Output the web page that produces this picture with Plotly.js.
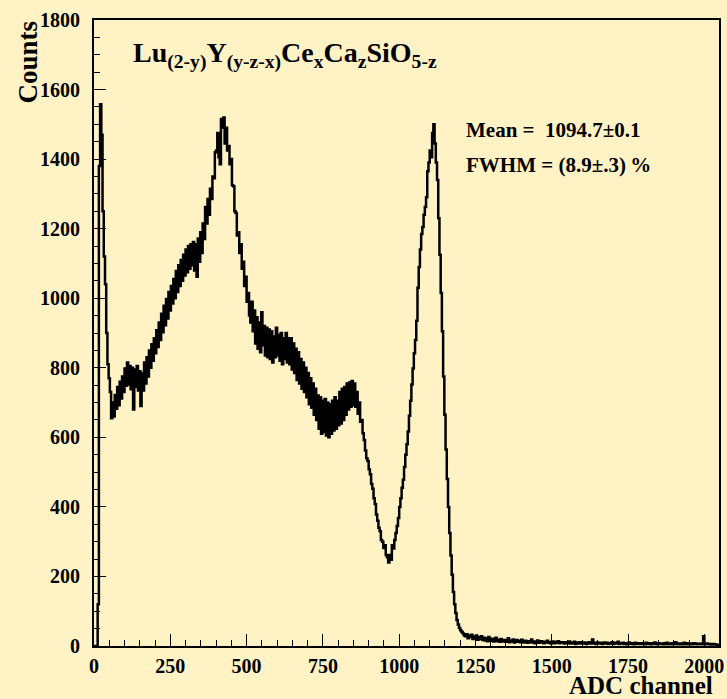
<!DOCTYPE html>
<html>
<head>
<meta charset="utf-8">
<script src="https://cdn.plot.ly/plotly-3.0.1.min.js"></script>
<style>
  html, body { margin: 0; padding: 0; background: #fff2c5; }
  #spectrum { width: 727px; height: 699px; }
</style>
</head>
<body>
<div id="spectrum"></div>
<script>
// ADC spectrum, 4 channels per bin, channels 0..2047
const binWidth = 4;
const counts = [
  0, 0, 0, 120, 1380, 1558, 1470, 1250, 1120, 1040, 900, 810, 770, 730, 655, 700,
  660, 722, 682, 745, 692, 760, 712, 775, 730, 798, 748, 815, 752, 805, 738, 800,
  680, 795, 745, 805, 735, 790, 690, 785, 735, 815, 755, 830, 775, 850, 800, 868,
  820, 885, 842, 908, 860, 930, 880, 955, 902, 978, 922, 998, 942, 1018, 965, 1035,
  985, 1055, 1000, 1078, 1018, 1095, 1035, 1110, 1050, 1125, 1065, 1140, 1075, 1150, 1085, 1155,
  1095, 1162, 1080, 1155, 1062, 1172, 1105, 1190, 1130, 1215, 1170, 1262, 1215, 1285, 1240, 1315,
  1285, 1350, 1345, 1420, 1425, 1475, 1405, 1385, 1515, 1490, 1520, 1445, 1490, 1425, 1438, 1385,
  1400, 1325, 1322, 1250, 1245, 1180, 1190, 1130, 1155, 1085, 1105, 1035, 1062, 990, 1015, 950,
  930, 990, 905, 965, 870, 945, 855, 930, 845, 960, 865, 920, 835, 915, 830, 910,
  825, 905, 815, 890, 830, 915, 835, 895, 820, 900, 810, 885, 825, 900, 815, 885,
  810, 885, 795, 870, 785, 855, 765, 845, 755, 825, 740, 815, 730, 800, 715, 785,
  695, 770, 685, 755, 665, 740, 650, 720, 625, 715, 610, 705, 615, 710, 605, 700,
  600, 695, 610, 705, 620, 715, 625, 705, 635, 730, 640, 740, 650, 745, 665, 755,
  680, 758, 688, 762, 692, 755, 688, 730, 668, 700, 645, 650, 612, 592, 562, 540,
  532, 508, 494, 466, 452, 425, 408, 378, 360, 340, 330, 305, 300, 282, 290, 262,
  255, 240, 262, 248, 290, 280, 305, 325, 345, 368, 400, 425, 455, 478, 515, 550,
  580, 617, 662, 705, 752, 798, 842, 880, 935, 1030, 1090, 1140, 1185, 1205, 1240, 1262,
  1290, 1365, 1390, 1425, 1405, 1475, 1500, 1445, 1390, 1340, 1230, 1125, 1015, 905, 775, 665,
  565, 480, 400, 325, 260, 205, 155, 120, 95, 75, 62, 52, 45, 40, 36, 30,
  28, 34, 22, 30, 25, 32, 20, 27, 22, 30, 18, 25, 20, 28, 17, 24,
  16, 22, 14, 26, 18, 15, 21, 13, 19, 24, 14, 18, 12, 20, 16, 13,
  17, 12, 15, 22, 11, 16, 13, 19, 10, 14, 17, 12, 15, 11, 18, 13,
  10, 15, 12, 9, 14, 11, 19, 10, 13, 8, 12, 16, 9, 11, 14, 10,
  8, 12, 10, 15, 9, 11, 7, 13, 10, 8, 12, 9, 14, 8, 10, 11,
  9, 7, 11, 8, 10, 13, 7, 9, 8, 12, 6, 10, 8, 7, 11, 9,
  7, 10, 8, 6, 9, 11, 7, 8, 19, 7, 9, 6, 10, 8, 7, 9,
  6, 8, 10, 7, 9, 6, 8, 7, 11, 6, 8, 9, 7, 12, 6, 8,
  7, 9, 6, 8, 5, 7, 10, 6, 8, 7, 5, 9, 6, 8, 7, 6,
  8, 6, 7, 5, 9, 6, 8, 7, 5, 8, 6, 10, 7, 5, 8, 6,
  6, 7, 5, 8, 6, 9, 5, 7, 6, 8, 5, 7, 11, 6, 5, 7,
  6, 5, 7, 9, 5, 6, 8, 5, 7, 6, 5, 8, 6, 7, 5, 6,
  6, 7, 5, 28, 6, 5, 7, 5, 6, 4, 5, 6, 4, 5, 3, 0
];

const titleText = 'Lu<sub>(2-y)</sub>Y<sub>(y-z-x)</sub>Ce<sub>x</sub>Ca<sub>z</sub>SiO<sub>5-z</sub>';
const statsLines = ['Mean =\u00a0\u00a01094.7\u00b10.1', 'FWHM = (8.9\u00b1.3)\u2009%'];
const xLabel = 'ADC channel';
const yLabel = 'Counts';

// bin edges for a step outline
const edges = counts.map((_, i) => i * binWidth);
edges.push(counts.length * binWidth);
const stepY = counts.slice();
stepY.push(counts[counts.length - 1]);

const serif = 'Liberation Serif, Times New Roman, serif';
const bg = '#fff2c5';

const axisCommon = {
  showgrid: false,
  zeroline: false,
  showline: true,
  mirror: true,
  linecolor: '#000',
  linewidth: 2,
  ticks: 'inside',
  ticklen: 12,
  tickwidth: 1,
  tickcolor: '#000',
  tickfont: { family: serif, size: 20, color: '#000', weight: 'bold' }
};

const trace = {
  type: 'scatter',
  mode: 'lines',
  x: edges,
  y: stepY,
  line: { shape: 'hv', color: '#000', width: 2.5 },
  hoverinfo: 'skip'
};

const layout = {
  width: 727,
  height: 699,
  margin: { l: 94, r: 8, t: 20, b: 53 },
  paper_bgcolor: bg,
  plot_bgcolor: bg,
  showlegend: false,
  title: {
    text: titleText,
    font: { family: serif, size: 28, color: '#000', weight: 'bold' },
    xref: 'paper', x: 0.0624, xanchor: 'left',
    yref: 'container', y: 1 - 52 / 699, yanchor: 'middle'
  },
  xaxis: Object.assign({}, axisCommon, {
    range: [0, 2048],
    tick0: 0, dtick: 250,
    ticklabelstandoff: 1,
    minor: { dtick: 50, ticks: 'inside', ticklen: 6, tickwidth: 1, tickcolor: '#000' }
  }),
  yaxis: Object.assign({}, axisCommon, {
    range: [0, 1800],
    tick0: 0, dtick: 200,
    ticklabelstandoff: 8,
    minor: { dtick: 50, ticks: 'inside', ticklen: 6, tickwidth: 1, tickcolor: '#000' }
  }),
  annotations: [
    {
      text: statsLines[0], xref: 'paper', yref: 'paper',
      x: 0.592, y: 0.824, xanchor: 'left', yanchor: 'middle', showarrow: false,
      font: { family: serif, size: 21, color: '#000', weight: 'bold' }
    },
    {
      text: statsLines[1], xref: 'paper', yref: 'paper',
      x: 0.592, y: 0.768, xanchor: 'left', yanchor: 'middle', showarrow: false,
      font: { family: serif, size: 21, color: '#000', weight: 'bold' }
    },
    {
      text: xLabel, xref: 'paper', yref: 'paper',
      x: 0.9936, y: -0.0625, xanchor: 'right', yanchor: 'middle', showarrow: false,
      font: { family: serif, size: 25, color: '#000', weight: 'bold' }
    },
    {
      text: yLabel, xref: 'paper', yref: 'paper', textangle: -90,
      x: -0.1056, y: 0.932, xanchor: 'center', yanchor: 'middle', showarrow: false,
      font: { family: serif, size: 27, color: '#000', weight: 'bold' }
    }
  ]
};

Plotly.newPlot('spectrum', [trace], layout, { displayModeBar: false, staticPlot: true });
</script>
</body>
</html>
